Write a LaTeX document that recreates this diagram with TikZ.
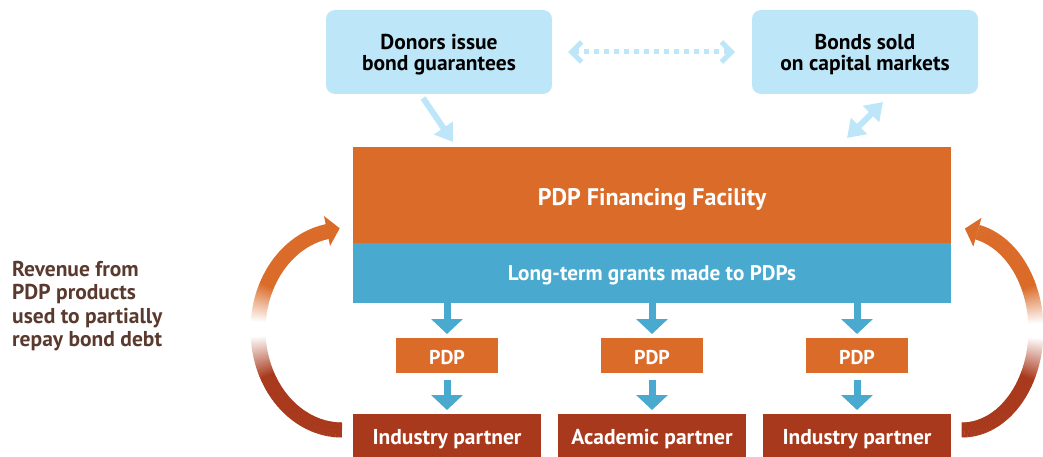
\documentclass[tikz,border=0pt]{standalone}
\usepackage{fontspec}
\setmainfont{PT Sans}
\usetikzlibrary{arrows.meta,calc}
\definecolor{pdporange}{HTML}{DB6B29}
\definecolor{pdpblue}{HTML}{49A9CE}
\definecolor{pdpred}{HTML}{A9391C}
\definecolor{pdplight}{HTML}{BDE6F9}
\definecolor{pdpbrown}{HTML}{5A3A2E}
\tikzset{
  lightbox/.style={fill=pdplight, rounded corners=9pt, minimum width=226pt, minimum height=84pt,
    inner sep=0pt, outer sep=0pt},
  lighttext/.style={align=center, text=black, inner sep=0pt,
    font=\bfseries\fontsize{21.5}{21}\selectfont},
  facbox/.style={fill=pdporange, minimum width=598pt, minimum height=96pt, text=white,
    inner sep=0pt, outer sep=0pt, text height=20pt, text depth=0pt,
    font=\bfseries\fontsize{24}{26}\selectfont},
  bandbox/.style={fill=pdpblue, minimum width=598pt, minimum height=60pt, text=white,
    inner sep=0pt, outer sep=0pt, text height=14.6pt, text depth=0pt,
    font=\bfseries\fontsize{21.2}{24}\selectfont},
  pdpbox/.style={fill=pdporange, minimum width=102pt, minimum height=35pt, text=white,
    inner sep=0pt, outer sep=0pt, text height=18pt, text depth=0pt,
    font=\bfseries\fontsize{20}{24}\selectfont},
  partnerbox/.style={fill=pdpred, minimum width=188pt, minimum height=43pt, text=white,
    inner sep=0pt, outer sep=0pt, text height=18.8pt, text depth=0pt,
    font=\bfseries\fontsize{21.5}{24}\selectfont},
  downarr/.style={draw=pdpblue, line width=7pt, -{Triangle[length=15pt,width=31pt]}},
  lightarr/.style={draw=pdplight, line width=6pt, -{Triangle[length=17pt,width=22pt]}},
  dotarr/.style={draw=pdplight, line width=5pt, dash pattern=on 5pt off 5pt,
    {Straight Barb[length=10pt,width=20pt,line width=5pt]}-{Straight Barb[length=10pt,width=20pt,line width=5pt]}},
  arcseg/.style={line width=15pt}
}
\begin{document}
\begin{tikzpicture}[x=1pt,y=-1pt]
\useasboundingbox (0,0) rectangle (1043,457);

% top boxes
\node[lightbox] (donors) at (439,52) {};
\node[lighttext] (donorstext) at ([yshift=-3pt]donors.center) {Donors issue\\bond guarantees};
\node[lightbox] (bonds) at (865,52) {};
\node[lighttext] (bondstext) at ([yshift=-3pt]bonds.center) {Bonds sold\\on capital markets};

% facility
\node[facbox] (fac) at (652,195) {PDP Financing Facility};
\node[bandbox] (band) at (652,273) {Long-term grants made to PDPs};

% PDPs
\node[pdpbox] (pdp1) at (447,355.5) {PDP};
\node[pdpbox] (pdp2) at (652,355.5) {PDP};
\node[pdpbox] (pdp3) at (857,355.5) {PDP};

% partners
\node[partnerbox] (ind1) at (447,435.5) {Industry partner};
\node[partnerbox] (acad) at (652,435.5) {Academic partner};
\node[partnerbox] (ind2) at (857,435.5) {Industry partner};

% left text
\node[anchor=north west, align=left, text=pdpbrown, inner sep=0pt,
  font=\bfseries\fontsize{21.5}{23.4}\selectfont] (rev) at (12,261)
  {Revenue from\\PDP products\\used to partially\\repay bond debt};

% top connectors
\draw[dotarr] ([xshift=16pt]donors.east) -- ([xshift=-17pt]bonds.west);
\draw[lightarr] ([xshift=-16pt,yshift=-4pt]donors.south) -- ($(fac.north west)+(100,-5)$);
\draw[lightarr, {Triangle[length=17pt,width=22pt]}-{Triangle[length=17pt,width=22pt]}]
  ($(fac.north west)+(494,-9)$) -- ([xshift=18pt,yshift=-8pt]bonds.south);

% down arrows
\foreach \i/\p in {pdp1/ind1, pdp2/acad, pdp3/ind2} {
  \draw[downarr] (band.south -| \i.north) -- ([yshift=4pt]\i.north);
  \draw[downarr] ([yshift=-7pt]\i.south) -- ([yshift=4pt]\p.north);
}

% left curved arrow (gradient)
\foreach \t in {90,...,259} {
  \pgfmathsetmacro\pr{max(0,min(100,100*(176-\t)/24))}
  \pgfmathsetmacro\po{max(0,min(100,100*(\t-184)/22))}
  \ifnum\t<180
    \draw[arcseg, color=pdpred!\pr!white] ({342+84*cos(\t)},{330+100*sin(\t)}) -- ({342+84*cos(\t+1.3)},{330+100*sin(\t+1.3)});
  \else
    \draw[arcseg, color=pdporange!\po!white] ({342+84*cos(\t)},{330+100*sin(\t)}) -- ({342+84*cos(\t+1.3)},{330+100*sin(\t+1.3)});
  \fi
}
\fill[pdporange] (339.7,228.3) -- (324,216) -- (330,246) -- cycle;

% right curved arrow (gradient)
\foreach \t in {-78,...,89} {
  \pgfmathsetmacro\pr{max(0,min(100,100*(\t-4)/24))}
  \pgfmathsetmacro\po{max(0,min(100,100*(-4-\t)/22))}
  \ifnum\t<0
    \draw[arcseg, color=pdporange!\po!white] ({962+74*cos(\t)},{330+100*sin(\t)}) -- ({962+74*cos(\t+1.3)},{330+100*sin(\t+1.3)});
  \else
    \draw[arcseg, color=pdpred!\pr!white] ({962+74*cos(\t)},{330+100*sin(\t)}) -- ({962+74*cos(\t+1.3)},{330+100*sin(\t+1.3)});
  \fi
}
\fill[pdporange] (964.9,228.6) -- (981.5,217.8) -- (973.3,246.6) -- cycle;
\end{tikzpicture}
\end{document}
